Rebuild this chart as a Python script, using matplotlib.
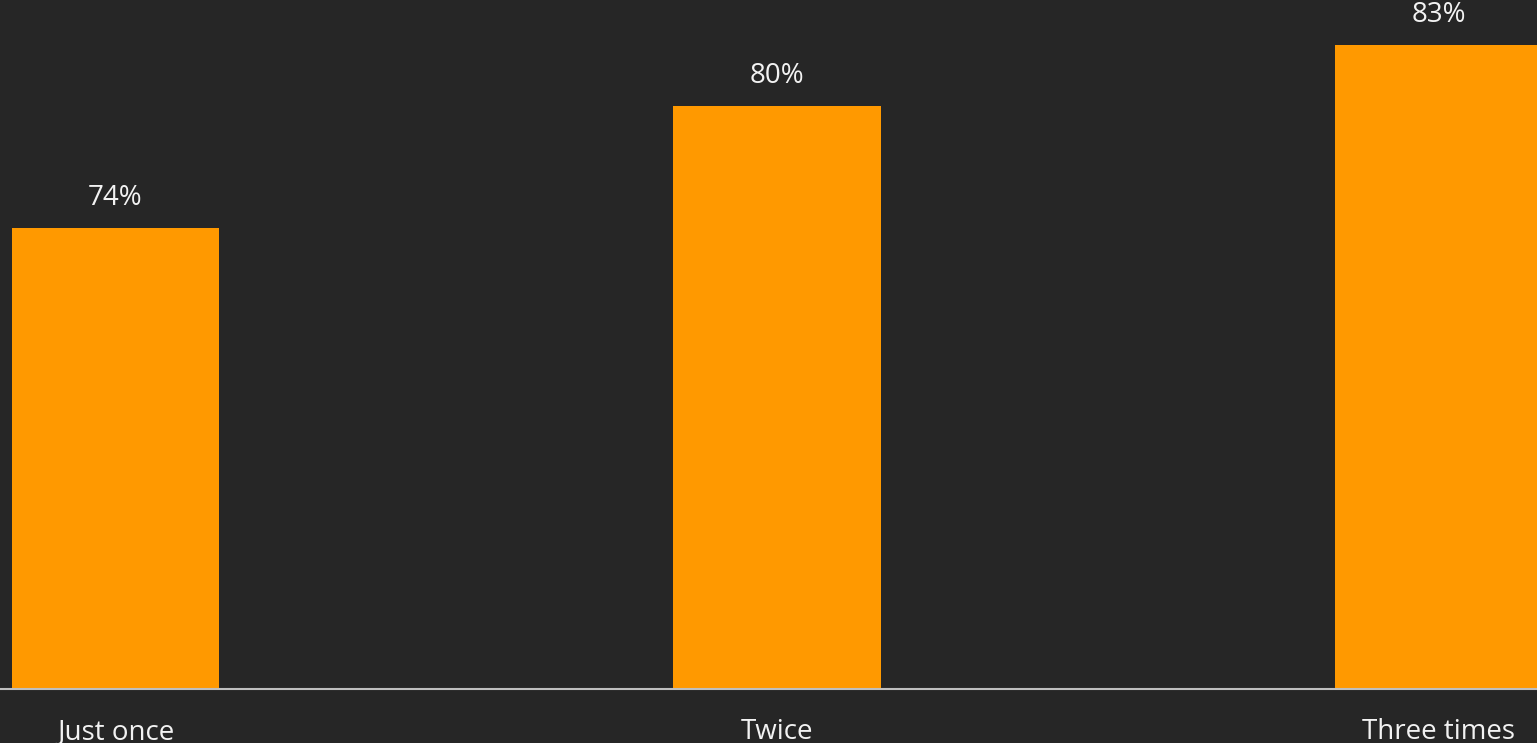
import matplotlib.pyplot as plt
import numpy as np

# share of respondents by how often they were asked
categories = ["Just once", "Twice", "Three times"]
shares = [74, 80, 83]
share_labels = ["74%", "80%", "83%"]

bg = "#262626"
bar_color = "#FF9900"
text_color = "#F2F2F2"

plt.rcParams["font.family"] = ["Open Sans", "DejaVu Sans"]

fig = plt.figure(figsize=(15.37, 7.43), dpi=100, facecolor=bg)
ax = fig.add_axes([0, 0.0731, 1, 0.9269], facecolor=bg)

x = np.arange(len(categories))
bars = ax.bar(x, shares, width=0.313, color=bar_color)

# value labels above each bar
for rect, label in zip(bars, share_labels):
    ax.annotate(label, (rect.get_x() + rect.get_width() / 2, rect.get_height()),
                xytext=(0, 21.6), textcoords="offset points",
                ha="center", va="center", fontsize=20, color=text_color)

ax.set_xlim(-0.1743, 2.1486)
ax.set_ylim(51.31, 85.22)

ax.set_xticks(x)
ax.set_xticklabels(categories, fontsize=20, color=text_color)
ax.tick_params(axis="x", length=0, pad=21)
ax.set_yticks([])

for side in ["top", "left", "right"]:
    ax.spines[side].set_visible(False)
ax.spines["bottom"].set_color("#BFBFBF")
ax.spines["bottom"].set_linewidth(1.5)

fig.savefig("out.png", dpi=100, facecolor=bg)
